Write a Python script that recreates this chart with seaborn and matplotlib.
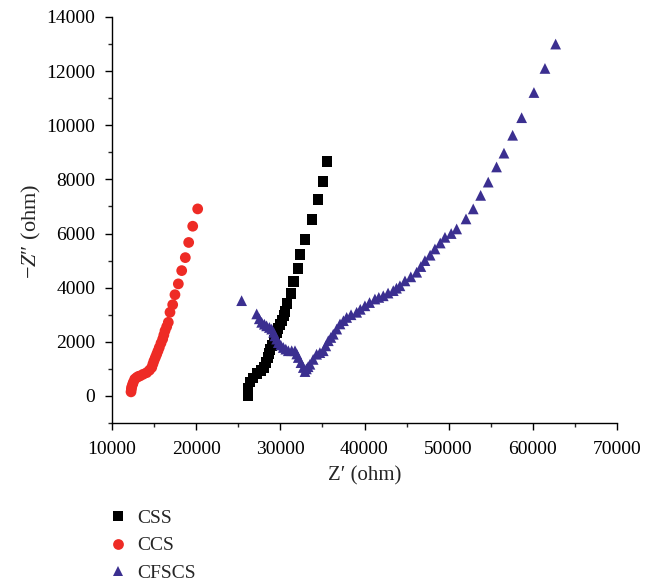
import matplotlib
matplotlib.use("Agg")
import matplotlib.pyplot as plt
from matplotlib.ticker import MultipleLocator
import numpy as np
import pandas as pd
import seaborn as sns

# ---- data ----
css_x = [26157, 26160, 26394, 26751, 27226, 27701, 28058, 28295, 28533, 28652, 28770,
         29008, 29246, 29364, 29602, 29721, 29958, 30196, 30433, 30552, 30790, 31265,
         31586, 32097, 32334, 32928, 33760, 34473, 35067, 35542]
css_y = [0, 296, 519, 667, 815, 926, 1037, 1222, 1408, 1556, 1704,
         1852, 2037, 2185, 2334, 2482, 2630, 2778, 2963, 3111, 3408, 3778,
         4223, 4704, 5223, 5779, 6519, 7260, 7927, 8668]

ccs_x = [12260, 12300, 12340, 12450, 12530, 12700, 12930, 13130, 13330, 13700, 14120,
         14450, 14720, 14860, 14990, 15150, 15310, 15460, 15620, 15820, 16020, 16160,
         16300, 16500, 16690, 16890, 17210, 17480, 17880, 18280, 18710, 19110, 19590, 20180]
ccs_y = [150, 250, 330, 430, 500, 620, 680, 720, 740, 800, 860,
         950, 1050, 1180, 1300, 1420, 1540, 1660, 1790, 1950, 2100, 2250,
         2410, 2560, 2720, 3090, 3370, 3740, 4140, 4630, 5110, 5670, 6270, 6910]

cfscs_x = [25400, 27190, 27500, 27780, 28100, 28370, 28700, 28970, 29200, 29360, 29560,
           29760, 30050, 30350, 30650, 30950, 31350, 31740, 31950, 32130, 32450, 32730,
           32930, 33100, 33300, 33520, 33900, 34310, 34700, 35100, 35400, 35700, 36000,
           36290, 36700, 37090, 37500, 37880, 38400, 39070, 39500, 40050, 40600, 41240,
           41700, 42230, 42800, 43420, 43800, 44210, 44810, 45500, 46200, 46700, 47180,
           47800, 48370, 49000, 49560, 50300, 50950, 52060, 52920, 53800, 54700, 55690,
           56570, 57600, 58670, 60130, 61440, 62710]
cfscs_y = [3520, 3030, 2850, 2720, 2650, 2590, 2530, 2470, 2350, 2220, 2100,
           1970, 1880, 1790, 1730, 1670, 1670, 1670, 1550, 1420, 1230, 1050,
           900, 1000, 1080, 1170, 1350, 1540, 1600, 1670, 1850, 2040, 2160,
           2280, 2470, 2660, 2780, 2900, 3000, 3090, 3200, 3330, 3450, 3580,
           3640, 3700, 3800, 3890, 3980, 4070, 4250, 4400, 4570, 4780, 5000,
           5200, 5430, 5650, 5860, 6000, 6170, 6540, 6910, 7410, 7900, 8460,
           8970, 9630, 10280, 11210, 12100, 13000]

series = ["CSS", "CCS", "CFSCS"]
colors = {"CSS": "#000000", "CCS": "#ee2b25", "CFSCS": "#3b2f90"}
markers = {"CSS": "s", "CCS": "o", "CFSCS": "^"}

df = pd.concat([
    pd.DataFrame({"x": css_x, "y": css_y, "s": "CSS"}),
    pd.DataFrame({"x": ccs_x, "y": ccs_y, "s": "CCS"}),
    pd.DataFrame({"x": cfscs_x, "y": cfscs_y, "s": "CFSCS"}),
], ignore_index=True)

sns.set_style("ticks")
plt.rcParams["font.family"] = ["Liberation Serif", "DejaVu Serif"]
plt.rcParams["mathtext.fontset"] = "custom"
plt.rcParams["mathtext.rm"] = "Liberation Serif"
plt.rcParams["mathtext.it"] = "Liberation Serif:italic"

fig = plt.figure(figsize=(6.54, 5.82), dpi=100)
ax = fig.add_axes([112 / 654, 1 - 423 / 582, 505 / 654, 406 / 582])

sns.scatterplot(data=df, x="x", y="y", hue="s", style="s", hue_order=series,
                style_order=series, palette=colors, markers=markers, s=60,
                edgecolor="none", linewidth=0, ax=ax)

ax.set_xlim(10000, 70000)
ax.set_ylim(-1000, 14000)
ax.xaxis.set_major_locator(MultipleLocator(10000))
ax.xaxis.set_minor_locator(MultipleLocator(5000))
ax.yaxis.set_major_locator(MultipleLocator(2000))
ax.yaxis.set_minor_locator(MultipleLocator(1000))
ax.tick_params(which="major", direction="out", length=5, width=1, labelsize=14,
               colors="black")
ax.tick_params(axis="x", which="major", pad=8)
ax.tick_params(axis="y", which="major", pad=7)
ax.tick_params(which="minor", direction="out", length=3, width=1)
for sp in ["top", "right"]:
    ax.spines[sp].set_visible(False)
for sp in ["left", "bottom"]:
    ax.spines[sp].set_linewidth(1)
    ax.spines[sp].set_color("black")

ax.set_xlabel("Z\u2032 (ohm)", fontsize=15)
ax.set_ylabel("\u2212$Z$\u2033 (ohm)", fontsize=16)
ax.xaxis.labelpad = 6
ax.yaxis.set_label_coords(-0.137, 0.473)

sns.move_legend(ax, loc="center left", bbox_to_anchor=(99 / 654, 1 - 545.5 / 582),
                bbox_transform=fig.transFigure, frameon=False, title=None,
                fontsize=14, handlelength=1.0, handletextpad=0.45,
                labelspacing=0.5, borderpad=0, markerscale=1.0)

fig.savefig("out.png", dpi=100)
